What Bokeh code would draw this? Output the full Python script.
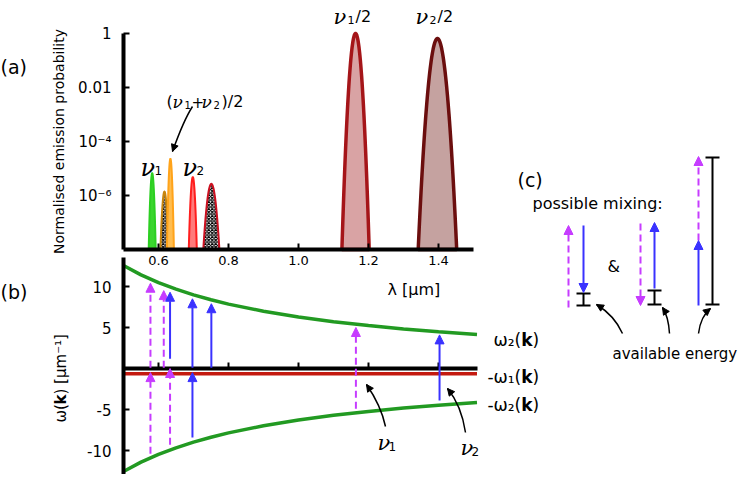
import numpy as np
from bokeh.plotting import figure
from bokeh.models import (Range1d, LogScale, LinearAxis, LogAxis, FixedTicker,
                          Arrow, NormalHead, Label, ColumnDataSource)
from bokeh.embed import file_html
from bokeh.resources import INLINE

# ---------------- data ----------------
# (a) normalised emission probability peaks (centre, peak height, half width at 1e-8)
peak_lambda = [0.582, 0.617, 0.634, 0.698, 0.751, 1.163, 1.397]
peak_prob = [6.7e-6, 1.4e-6, 2.3e-5, 4.8e-6, 2.7e-6, 1.0, 0.65]
peak_halfwidth = [0.010, 0.0115, 0.010, 0.0115, 0.023, 0.039, 0.055]
peak_line_color = ["#2ccf22", "#c8850c", "#ffa31a", "#ff1e1e", "#cc1020", "#a51519", "#6b0e0e"]
peak_fill_color = ["#3ad62e", "white", "#ffbd4f", "#ff7a7a", "white", "#d9a3a4", "#c5a2a0"]
peak_checker = [False, True, False, False, True, False, False]
peak_line_width = [2, 2, 2, 2, 2, 3.5, 3.5]
prob_floor = 1e-8

ticks_lambda = [0.6, 0.8, 1.0, 1.2, 1.4]
tick_lambda_labels = ["0.6", "0.8", "1.0", "1.2", "1.4"]
ticks_prob = [1e-6, 1e-4, 1e-2, 1.0]
tick_prob_labels = ["10⁻⁶", "10⁻⁴", "0.01", "1"]

# (b) dispersion branches
disp_lambda = [0.50, 0.55, 0.60, 0.65, 0.70, 0.75, 0.80, 0.90, 1.00, 1.10, 1.20, 1.30, 1.40, 1.51]
disp_omega2 = [12.57, 11.42, 10.47, 9.67, 8.98, 8.38, 7.85, 6.98, 6.28, 5.71, 5.24, 4.83, 4.49, 4.16]
omega1_lambda = [0.50, 1.51]
omega1_neg = [-0.65, -0.65]
ticks_omega = [-10, -5, 5, 10]
tick_omega_labels = ["-10", "-5", "5", "10"]

# (b) mixing transitions: dashed (magenta) and solid (blue)
dash_lambda = [0.577, 0.615, 0.577, 0.633, 1.164]
dash_from = [0.1, 0.1, -10.4, -9.3, -4.9]
dash_to = [10.4, 9.5, -0.5, 0.0, 5.0]
solid_lambda = [0.633, 0.697, 0.751, 0.697, 1.403]
solid_from = [1.2, 0.1, 0.1, -8.4, -3.9]
solid_to = [9.3, 8.5, 7.9, -0.5, 4.1]

MAGENTA = "#c63cff"
BLUE = "#3a32ff"
GREEN = "#229a22"
RED = "#c41a10"

# ---------------- layout / scales ----------------
W, H = 740, 474
PX_LAM, PX_OM, PX_DEC = 350.0, 8.2, 27.0
X_LO = 0.5 - 123 / PX_LAM
X_HI = X_LO + W / PX_LAM
Y_HI = 368 / PX_OM
Y_LO = Y_HI - H / PX_OM
LOG_HI = 33 / PX_DEC
LOG_LO = LOG_HI - H / PX_DEC


def X(px):
    return X_LO + px / PX_LAM


def Y(py):
    return Y_HI - py / PX_OM


p = figure(width=W, height=H, x_range=Range1d(X_LO, X_HI), y_range=Range1d(Y_LO, Y_HI),
           x_axis_type=None, y_axis_type=None, toolbar_location=None,
           output_backend="svg", min_border=0, title=None)
p.outline_line_color = None
p.extra_y_ranges = {"log": Range1d(10 ** LOG_LO, 10 ** LOG_HI)}
p.extra_y_scales = {"log": LogScale()}


def style_axis(ax, size):
    ax.axis_line_width = 4
    ax.axis_line_color = "black"
    ax.major_tick_line_width = 2
    ax.major_tick_line_color = "black"
    ax.major_tick_in = 6
    ax.major_tick_out = 0
    ax.minor_tick_line_color = None
    ax.major_label_text_font = "DejaVu Sans"
    ax.major_label_text_font_size = size
    ax.major_label_text_color = "black"


# ---- panel (a) peaks ----
for c, h, hw, lc, fc, chk, lw in zip(peak_lambda, peak_prob, peak_halfwidth, peak_line_color,
                                     peak_fill_color, peak_checker, peak_line_width):
    t = np.linspace(-1, 1, 81)
    L, F = np.log10(h), np.log10(prob_floor)
    xs = c + hw * t
    ys = 10 ** (L - (L - F) * t ** 2)
    kw = dict(hatch_pattern="diagonal_cross", hatch_color="black", hatch_scale=3.5,
              hatch_weight=1.2) if chk else {}
    p.patch(xs, ys, y_range_name="log", line_color=lc, line_width=lw, fill_color=fc, **kw)

ax_ay = LogAxis(y_range_name="log", fixed_location=0.5, bounds=(prob_floor, 1.0),
                ticker=FixedTicker(ticks=ticks_prob))
style_axis(ax_ay, "15px")
ax_ay.major_label_standoff = 12
ax_ay.major_label_overrides = dict(zip(ticks_prob, tick_prob_labels))
p.add_layout(ax_ay, "left")

ax_ax = LinearAxis(y_range_name="log", fixed_location=prob_floor, bounds=(0.5, 1.5),
                   ticker=FixedTicker(ticks=ticks_lambda))
style_axis(ax_ax, "13px")
ax_ax.major_label_standoff = 6
ax_ax.major_label_overrides = dict(zip(ticks_lambda, tick_lambda_labels))
p.add_layout(ax_ax, "below")

# ---- panel (b) ----
p.line(disp_lambda, disp_omega2, line_color=GREEN, line_width=3.5)
p.line(disp_lambda, [-w for w in disp_omega2], line_color=GREEN, line_width=3.5)
p.line(omega1_lambda, omega1_neg, line_color=RED, line_width=3.5)

ax_by = LinearAxis(fixed_location=0.5, bounds=(-14, 13.5), ticker=FixedTicker(ticks=ticks_omega))
style_axis(ax_by, "15px")
ax_by.major_label_standoff = 12
ax_by.major_label_overrides = dict(zip(ticks_omega, tick_omega_labels))
p.add_layout(ax_by, "left")

ax_bx = LinearAxis(fixed_location=0, bounds=(0.5, 1.51), ticker=FixedTicker(ticks=ticks_lambda))
style_axis(ax_bx, "13px")
ax_bx.major_label_overrides = {t: "" for t in ticks_lambda}
p.add_layout(ax_bx, "below")

src_dash = ColumnDataSource(dict(x=dash_lambda, y0=dash_from, y1=dash_to))
p.add_layout(Arrow(source=src_dash, x_start="x", y_start="y0", x_end="x", y_end="y1",
                   line_color=MAGENTA, line_width=2, line_dash="7 4",
                   end=NormalHead(size=9, fill_color=MAGENTA, line_color=MAGENTA, line_width=1)))
src_solid = ColumnDataSource(dict(x=solid_lambda, y0=solid_from, y1=solid_to))
p.add_layout(Arrow(source=src_solid, x_start="x", y_start="y0", x_end="x", y_end="y1",
                   line_color=BLUE, line_width=2,
                   end=NormalHead(size=9, fill_color=BLUE, line_color=BLUE, line_width=1)))


# ---- helpers for text / curved arrows (pixel layout) ----
def txt(s, px, py, size, font="DejaVu Sans", style="normal", align="left",
        baseline="alphabetic", angle=0.0):
    p.add_layout(Label(x=X(px), y=Y(py), text=s, text_font=font, text_font_size=f"{size}px",
                       text_font_style=style, text_align=align, text_baseline=baseline,
                       text_color="black", angle=angle))


def curved(start, ctrl, end, width=1.5):
    p.quadratic(x0=[X(start[0])], y0=[Y(start[1])], x1=[X(end[0])], y1=[Y(end[1])],
                cx=[X(ctrl[0])], cy=[Y(ctrl[1])], line_color="black", line_width=width)
    dx, dy = end[0] - ctrl[0], end[1] - ctrl[1]
    n = (dx * dx + dy * dy) ** 0.5
    sx, sy = end[0] - 3 * dx / n, end[1] - 3 * dy / n
    p.add_layout(Arrow(x_start=X(sx), y_start=Y(sy), x_end=X(end[0]), y_end=Y(end[1]),
                       line_color="black", line_width=width,
                       end=NormalHead(size=7, fill_color="black", line_color="black", line_width=1)))


def branch_label(head, right_px, base_py, size=17):
    # head text + bold k + ")" ; right-aligned chain ending at right_px
    kw = 0.665 * size
    txt(")", right_px, base_py, size)
    txt("k", right_px, base_py, size, style="bold", align="right")
    txt(head, right_px - kw, base_py, size, align="right")


SERIF = "DejaVu Serif"

# panel letters
txt("(a)", 0, 66, 19)
txt("(b)", 0, 291, 19)
txt("(c)", 517, 179, 19)

# axis titles
txt("Normalised emission probability", 58, 141, 14, align="center", angle=np.pi / 2)
txt("ω(", 60, 422, 15, angle=np.pi / 2)
txt("k", 60, 404, 15, style="bold", angle=np.pi / 2)
txt(") [µm⁻¹]", 60, 394, 15, angle=np.pi / 2)
txt("λ [µm]", 387, 289, 16)

# peak labels in (a)
txt("ν", 140, 167, 24, font=SERIF, style="italic")
txt("1", 154, 170, 12)
txt("ν", 182, 167, 24, font=SERIF, style="italic")
txt("2", 196, 170, 12)

txt("(", 166, 101, 16)
txt("ν", 172, 101, 17, font=SERIF, style="italic")
txt("1", 184, 104, 10)
txt("+", 191, 101, 15)
txt("ν", 201, 101, 17, font=SERIF, style="italic")
txt("2", 213, 104, 10)
txt(")/2", 221, 101, 16)
curved((192, 106), (183, 120), (172, 151))

txt("ν", 333, 16, 21, font=SERIF, style="italic")
txt("1", 347, 19, 11)
txt("/2", 355, 16, 16)
txt("ν", 415, 16, 21, font=SERIF, style="italic")
txt("2", 429, 19, 11)
txt("/2", 437, 16, 16)

# branch labels in (b)
branch_label("ω₂(", 532, 339)
branch_label("-ω₁(", 532, 376)
branch_label("-ω₂(", 532, 404)

txt("ν", 377, 442, 21, font=SERIF, style="italic")
txt("1", 388, 446, 12)
txt("ν", 460, 447, 21, font=SERIF, style="italic")
txt("2", 471, 451, 12)
curved((385, 426), (380.5, 405), (366, 384))
curved((465, 432), (461, 405), (447, 388))

# ---- panel (c) schematic (pixel layout) ----
txt("possible mixing:", 532, 203, 16)
txt("&", 607, 266, 16)
txt("available energy", 612, 353, 15)

c_dash = [(568, 307, 225), (640, 223, 305), (698, 240, 156)]
c_solid = [(583, 225, 292), (654, 288, 222), (698, 305, 240)]
for x, y0, y1 in c_dash:
    p.add_layout(Arrow(x_start=X(x), y_start=Y(y0), x_end=X(x), y_end=Y(y1),
                       line_color=MAGENTA, line_width=2, line_dash="7 4",
                       end=NormalHead(size=9, fill_color=MAGENTA, line_color=MAGENTA, line_width=1)))
for x, y0, y1 in c_solid:
    p.add_layout(Arrow(x_start=X(x), y_start=Y(y0), x_end=X(x), y_end=Y(y1),
                       line_color=BLUE, line_width=2,
                       end=NormalHead(size=9, fill_color=BLUE, line_color=BLUE, line_width=1)))

c_bars = [(583, 293, 305, 7), (654, 290, 304, 7), (712, 157, 304, 7)]
bx0, by0, bx1, by1 = [], [], [], []
for x, ya, yb, hw in c_bars:
    for a, b, c, d in [(x, ya, x, yb), (x - hw, ya, x + hw, ya), (x - hw, yb, x + hw, yb)]:
        bx0.append(X(a)); by0.append(Y(b)); bx1.append(X(c)); by1.append(Y(d))
p.segment(bx0, by0, bx1, by1, line_color="black", line_width=2)

curved((622, 333), (614, 315), (596, 304))
curved((669, 333), (668, 316), (662, 307))
curved((698, 333), (700, 316), (710, 308))

open("out.html", "w").write(file_html(p, INLINE))
